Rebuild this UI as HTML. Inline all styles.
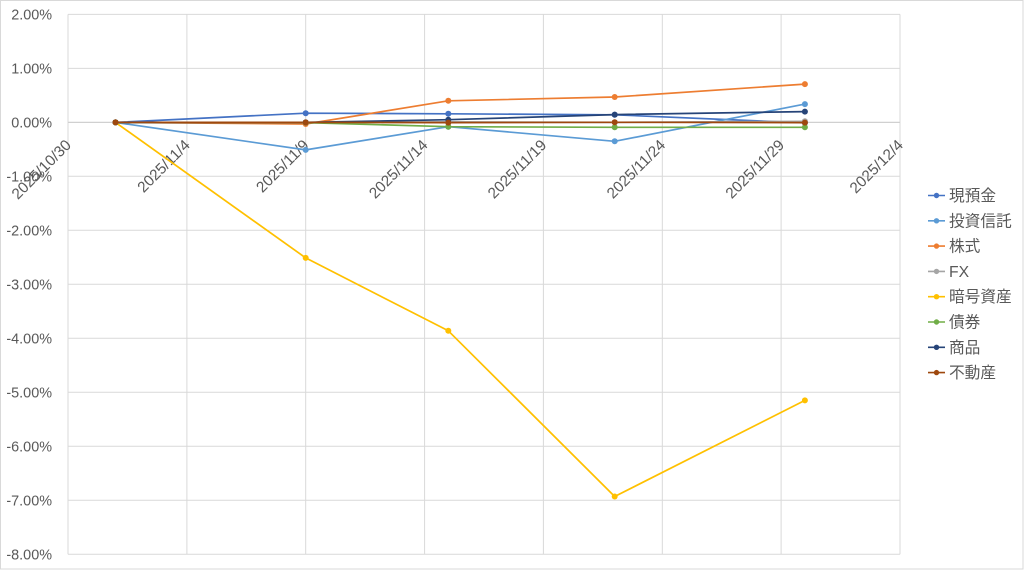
<!DOCTYPE html>
<html>
<head>
<meta charset="utf-8">
<style>
  html, body { margin: 0; padding: 0; background: #fff; }
  body { width: 1024px; height: 570px; overflow: hidden; }
  svg { display: block; }
  text { font-family: "Liberation Sans", "Noto Sans CJK JP", sans-serif; fill: #595959; }
</style>
</head>
<body>
<svg width="1024" height="570" viewBox="0 0 1024 570" xmlns="http://www.w3.org/2000/svg">
  <rect x="0" y="0" width="1024" height="570" fill="#fff"/>
  <rect x="0.5" y="0.5" width="1022.5" height="568.5" fill="none" stroke="#d9d9d9" stroke-width="1"/>

  <!-- horizontal gridlines -->
  <g stroke="#d9d9d9" stroke-width="1">
    <line x1="68" x2="900" y1="14.4" y2="14.4"/>
    <line x1="68" x2="900" y1="68.4" y2="68.4"/>
    <line x1="68" x2="900" y1="176.3" y2="176.3"/>
    <line x1="68" x2="900" y1="230.3" y2="230.3"/>
    <line x1="68" x2="900" y1="284.3" y2="284.3"/>
    <line x1="68" x2="900" y1="338.3" y2="338.3"/>
    <line x1="68" x2="900" y1="392.3" y2="392.3"/>
    <line x1="68" x2="900" y1="446.3" y2="446.3"/>
    <line x1="68" x2="900" y1="500.2" y2="500.2"/>
    <line x1="68" x2="900" y1="554.2" y2="554.2"/>
    <!-- vertical gridlines -->
    <line x1="68" x2="68" y1="14.4" y2="554.2"/>
    <line x1="186.9" x2="186.9" y1="14.4" y2="554.2"/>
    <line x1="305.7" x2="305.7" y1="14.4" y2="554.2"/>
    <line x1="424.6" x2="424.6" y1="14.4" y2="554.2"/>
    <line x1="543.4" x2="543.4" y1="14.4" y2="554.2"/>
    <line x1="662.3" x2="662.3" y1="14.4" y2="554.2"/>
    <line x1="781.1" x2="781.1" y1="14.4" y2="554.2"/>
    <line x1="900" x2="900" y1="14.4" y2="554.2"/>
  </g>
  <!-- zero axis -->
  <line x1="68" x2="900" y1="122.4" y2="122.4" stroke="#d0d0d0" stroke-width="1.3"/>

  <!-- y labels -->
  <g font-size="14.4" text-anchor="end">
    <text x="52" y="19.6">2.00%</text>
    <text x="52" y="73.6">1.00%</text>
    <text x="52" y="127.6">0.00%</text>
    <text x="52" y="181.5">-1.00%</text>
    <text x="52" y="235.5">-2.00%</text>
    <text x="52" y="289.5">-3.00%</text>
    <text x="52" y="343.5">-4.00%</text>
    <text x="52" y="397.5">-5.00%</text>
    <text x="52" y="451.5">-6.00%</text>
    <text x="52" y="505.4">-7.00%</text>
    <text x="52" y="559.4">-8.00%</text>
  </g>

  <!-- x labels -->
  <g font-size="15.3" text-anchor="end">
    <text transform="translate(72,146) rotate(-45)">2025/10/30</text>
    <text transform="translate(190.9,146) rotate(-45)">2025/11/4</text>
    <text transform="translate(309.7,146) rotate(-45)">2025/11/9</text>
    <text transform="translate(428.6,146) rotate(-45)">2025/11/14</text>
    <text transform="translate(547.4,146) rotate(-45)">2025/11/19</text>
    <text transform="translate(666.3,146) rotate(-45)">2025/11/24</text>
    <text transform="translate(785.1,146) rotate(-45)">2025/11/29</text>
    <text transform="translate(904,146) rotate(-45)">2025/12/4</text>
  </g>

  <!-- series -->
  <g fill="none" stroke-width="1.7" stroke-linejoin="round">
    <polyline stroke="#4472C4" points="115.5,122.4 305.7,113.2 448.3,113.8 614.7,114.8 804.9,122.9"/>
    <polyline stroke="#5B9BD5" points="115.5,122.4 305.7,149.9 448.3,126.7 614.7,141.3 804.9,104.1"/>
    <polyline stroke="#ED7D31" points="115.5,122.4 305.7,124.0 448.3,100.8 614.7,97.0 804.9,84.1"/>
    <polyline stroke="#A5A5A5" points="115.5,122.4 305.7,122.4 448.3,121.9 614.7,122.4 804.9,121.3"/>
    <polyline stroke="#FFC000" points="115.5,122.4 305.7,257.9 448.3,330.8 614.7,496.5 804.9,400.4"/>
    <polyline stroke="#70AD47" points="115.5,122.4 305.7,122.6 448.3,126.7 614.7,127.3 804.9,127.3"/>
    <polyline stroke="#264478" points="115.5,122.4 305.7,122.4 448.3,119.7 614.7,114.6 804.9,111.6"/>
    <polyline stroke="#9E480E" points="115.5,122.4 305.7,122.4 448.3,122.6 614.7,122.3 804.9,122.6"/>
  </g>

  <!-- markers -->
  <g>
    <g fill="#4472C4">
      <circle cx="115.5" cy="122.4" r="3"/><circle cx="305.7" cy="113.2" r="3"/><circle cx="448.3" cy="113.8" r="3"/><circle cx="614.7" cy="114.8" r="3"/><circle cx="804.9" cy="122.9" r="3"/>
    </g>
    <g fill="#5B9BD5">
      <circle cx="115.5" cy="122.4" r="3"/><circle cx="305.7" cy="149.9" r="3"/><circle cx="448.3" cy="126.7" r="3"/><circle cx="614.7" cy="141.3" r="3"/><circle cx="804.9" cy="104.1" r="3"/>
    </g>
    <g fill="#ED7D31">
      <circle cx="115.5" cy="122.4" r="3"/><circle cx="305.7" cy="124.0" r="3"/><circle cx="448.3" cy="100.8" r="3"/><circle cx="614.7" cy="97.0" r="3"/><circle cx="804.9" cy="84.1" r="3"/>
    </g>
    <g fill="#A5A5A5">
      <circle cx="115.5" cy="122.4" r="3"/><circle cx="305.7" cy="122.4" r="3"/><circle cx="448.3" cy="121.9" r="3"/><circle cx="614.7" cy="122.4" r="3"/><circle cx="804.9" cy="121.3" r="3"/>
    </g>
    <g fill="#FFC000">
      <circle cx="115.5" cy="122.4" r="3"/><circle cx="305.7" cy="257.9" r="3"/><circle cx="448.3" cy="330.8" r="3"/><circle cx="614.7" cy="496.5" r="3"/><circle cx="804.9" cy="400.4" r="3"/>
    </g>
    <g fill="#70AD47">
      <circle cx="115.5" cy="122.4" r="3"/><circle cx="305.7" cy="122.6" r="3"/><circle cx="448.3" cy="126.7" r="3"/><circle cx="614.7" cy="127.3" r="3"/><circle cx="804.9" cy="127.3" r="3"/>
    </g>
    <g fill="#264478">
      <circle cx="115.5" cy="122.4" r="3"/><circle cx="305.7" cy="122.4" r="3"/><circle cx="448.3" cy="119.7" r="3"/><circle cx="614.7" cy="114.6" r="3"/><circle cx="804.9" cy="111.6" r="3"/>
    </g>
    <g fill="#9E480E">
      <circle cx="115.5" cy="122.4" r="3"/><circle cx="305.7" cy="122.4" r="3"/><circle cx="448.3" cy="122.6" r="3"/><circle cx="614.7" cy="122.3" r="3"/><circle cx="804.9" cy="122.6" r="3"/>
    </g>
  </g>

  <!-- legend -->
  <g font-size="15.7">
    <line x1="928" x2="945" y1="195.5" y2="195.5" stroke="#4472C4" stroke-width="1.6"/><circle cx="936.5" cy="195.5" r="2.7" fill="#4472C4"/>
    <text x="949" y="201">現預金</text>
    <line x1="928" x2="945" y1="220.8" y2="220.8" stroke="#5B9BD5" stroke-width="1.6"/><circle cx="936.5" cy="220.8" r="2.7" fill="#5B9BD5"/>
    <text x="949" y="226.3">投資信託</text>
    <line x1="928" x2="945" y1="246.1" y2="246.1" stroke="#ED7D31" stroke-width="1.6"/><circle cx="936.5" cy="246.1" r="2.7" fill="#ED7D31"/>
    <text x="949" y="251.6">株式</text>
    <line x1="928" x2="945" y1="271.4" y2="271.4" stroke="#A5A5A5" stroke-width="1.6"/><circle cx="936.5" cy="271.4" r="2.7" fill="#A5A5A5"/>
    <text x="949" y="276.9">FX</text>
    <line x1="928" x2="945" y1="296.7" y2="296.7" stroke="#FFC000" stroke-width="1.6"/><circle cx="936.5" cy="296.7" r="2.7" fill="#FFC000"/>
    <text x="949" y="302.2">暗号資産</text>
    <line x1="928" x2="945" y1="322" y2="322" stroke="#70AD47" stroke-width="1.6"/><circle cx="936.5" cy="322" r="2.7" fill="#70AD47"/>
    <text x="949" y="327.5">債券</text>
    <line x1="928" x2="945" y1="347.3" y2="347.3" stroke="#264478" stroke-width="1.6"/><circle cx="936.5" cy="347.3" r="2.7" fill="#264478"/>
    <text x="949" y="352.8">商品</text>
    <line x1="928" x2="945" y1="372.6" y2="372.6" stroke="#9E480E" stroke-width="1.6"/><circle cx="936.5" cy="372.6" r="2.7" fill="#9E480E"/>
    <text x="949" y="378.1">不動産</text>
  </g>
</svg>
</body>
</html>
